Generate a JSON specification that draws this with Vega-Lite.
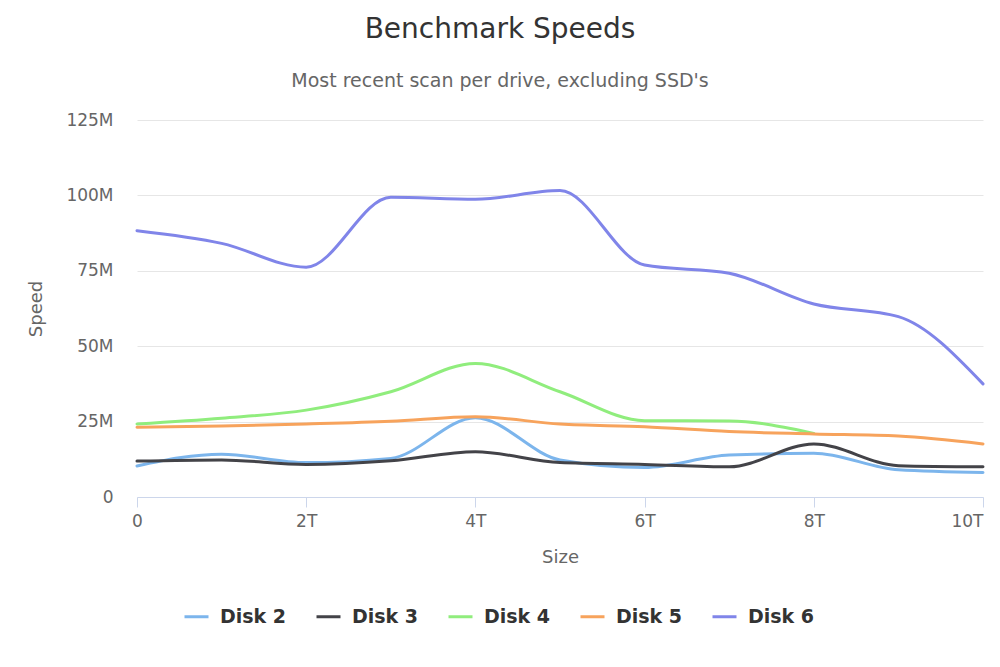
{
  "$schema": "https://vega.github.io/schema/vega-lite/v6.json",
  "width": 846,
  "height": 377,
  "autosize": {"type": "none"},
  "padding": {"left": 137, "top": 120, "right": 17, "bottom": 170},
  "background": "white",
  "config": {
    "font": "DejaVu Sans",
    "view": {"stroke": null}
  },
  "title": {
    "text": "Benchmark Speeds",
    "subtitle": "Most recent scan per drive, excluding SSD's",
    "anchor": "middle",
    "dx": -60,
    "fontSize": 28,
    "fontWeight": "normal",
    "color": "#333333",
    "subtitleFontSize": 19,
    "subtitleColor": "#666666",
    "subtitlePadding": 28,
    "offset": 20
  },
  "data": {
    "values": [
      {"disk": "Disk 2", "size": 0, "speed": 10.3},
      {"disk": "Disk 2", "size": 1, "speed": 14.2},
      {"disk": "Disk 2", "size": 2, "speed": 11.4},
      {"disk": "Disk 2", "size": 3, "speed": 12.8},
      {"disk": "Disk 2", "size": 4, "speed": 26.3},
      {"disk": "Disk 2", "size": 5, "speed": 12.3},
      {"disk": "Disk 2", "size": 6, "speed": 9.8},
      {"disk": "Disk 2", "size": 7, "speed": 13.9},
      {"disk": "Disk 2", "size": 8, "speed": 14.5},
      {"disk": "Disk 2", "size": 9, "speed": 9.0},
      {"disk": "Disk 2", "size": 10, "speed": 8.1},
      {"disk": "Disk 3", "size": 0, "speed": 11.9},
      {"disk": "Disk 3", "size": 1, "speed": 12.3},
      {"disk": "Disk 3", "size": 2, "speed": 10.8},
      {"disk": "Disk 3", "size": 3, "speed": 12.0},
      {"disk": "Disk 3", "size": 4, "speed": 15.0},
      {"disk": "Disk 3", "size": 5, "speed": 11.4},
      {"disk": "Disk 3", "size": 6, "speed": 10.8},
      {"disk": "Disk 3", "size": 7, "speed": 10.0},
      {"disk": "Disk 3", "size": 8, "speed": 17.6},
      {"disk": "Disk 3", "size": 9, "speed": 10.4},
      {"disk": "Disk 3", "size": 10, "speed": 10.0},
      {"disk": "Disk 4", "size": 0, "speed": 24.2},
      {"disk": "Disk 4", "size": 1, "speed": 26.1},
      {"disk": "Disk 4", "size": 2, "speed": 28.8},
      {"disk": "Disk 4", "size": 3, "speed": 34.9},
      {"disk": "Disk 4", "size": 4, "speed": 44.3},
      {"disk": "Disk 4", "size": 5, "speed": 34.9},
      {"disk": "Disk 4", "size": 6, "speed": 25.3},
      {"disk": "Disk 4", "size": 7, "speed": 25.2},
      {"disk": "Disk 4", "size": 8, "speed": 21.1},
      {"disk": "Disk 5", "size": 0, "speed": 23.1},
      {"disk": "Disk 5", "size": 1, "speed": 23.5},
      {"disk": "Disk 5", "size": 2, "speed": 24.2},
      {"disk": "Disk 5", "size": 3, "speed": 25.1},
      {"disk": "Disk 5", "size": 4, "speed": 26.6},
      {"disk": "Disk 5", "size": 5, "speed": 24.2},
      {"disk": "Disk 5", "size": 6, "speed": 23.3},
      {"disk": "Disk 5", "size": 7, "speed": 21.7},
      {"disk": "Disk 5", "size": 8, "speed": 20.9},
      {"disk": "Disk 5", "size": 9, "speed": 20.2},
      {"disk": "Disk 5", "size": 10, "speed": 17.6},
      {"disk": "Disk 6", "size": 0, "speed": 88.3},
      {"disk": "Disk 6", "size": 1, "speed": 84.1},
      {"disk": "Disk 6", "size": 2, "speed": 76.2},
      {"disk": "Disk 6", "size": 3, "speed": 99.4},
      {"disk": "Disk 6", "size": 4, "speed": 98.7},
      {"disk": "Disk 6", "size": 5, "speed": 101.6},
      {"disk": "Disk 6", "size": 6, "speed": 76.9},
      {"disk": "Disk 6", "size": 7, "speed": 74.2},
      {"disk": "Disk 6", "size": 8, "speed": 64.0},
      {"disk": "Disk 6", "size": 9, "speed": 59.8},
      {"disk": "Disk 6", "size": 10, "speed": 37.5}
    ]
  },
  "mark": {"type": "line", "interpolate": "monotone", "strokeWidth": 3, "strokeCap": "round", "strokeJoin": "round"},
  "encoding": {
    "x": {
      "field": "size",
      "type": "quantitative",
      "scale": {"domain": [0, 10], "nice": false, "zero": false},
      "axis": {
        "title": "Size",
        "values": [0, 2, 4, 6, 8, 10],
        "labelExpr": "datum.value == 0 ? '0' : datum.value + 'T'",
        "labelFlush": false,
        "labelAlign": {"condition": {"test": "datum.value == 10", "value": "right"}, "value": "center"},
        "labelBound": false,
        "grid": false,
        "domainColor": "#ccd6eb",
        "tickColor": "#ccd6eb",
        "tickSize": 10,
        "labelPadding": 6,
        "labelFontSize": 17,
        "labelColor": "#666666",
        "titleFontSize": 18,
        "titleFontWeight": "normal",
        "titleColor": "#666666",
        "titlePadding": 19
      }
    },
    "y": {
      "field": "speed",
      "type": "quantitative",
      "scale": {"domain": [0, 125], "nice": false},
      "axis": {
        "title": "Speed",
        "values": [0, 25, 50, 75, 100, 125],
        "labelExpr": "datum.value == 0 ? '0' : datum.value + 'M'",
        "domain": false,
        "ticks": false,
        "gridColor": "#e6e6e6",
        "labelPadding": 24,
        "labelFontSize": 17,
        "labelColor": "#666666",
        "titleFontSize": 18,
        "titleFontWeight": "normal",
        "titleColor": "#666666",
        "titlePadding": 20
      }
    },
    "color": {
      "field": "disk",
      "type": "nominal",
      "scale": {
        "domain": ["Disk 2", "Disk 3", "Disk 4", "Disk 5", "Disk 6"],
        "range": ["#7cb5ec", "#434348", "#90ed7d", "#f7a35c", "#8085e9"]
      },
      "legend": {
        "title": null,
        "orient": "none",
        "direction": "horizontal",
        "columns": 5,
        "legendX": 46,
        "legendY": 483,
        "symbolType": "stroke",
        "symbolStrokeWidth": 3,
        "symbolSize": 576,
        "labelFontSize": 19,
        "labelFontWeight": "bold",
        "labelColor": "#333333",
        "labelOffset": 10,
        "columnPadding": 23
      }
    }
  }
}
